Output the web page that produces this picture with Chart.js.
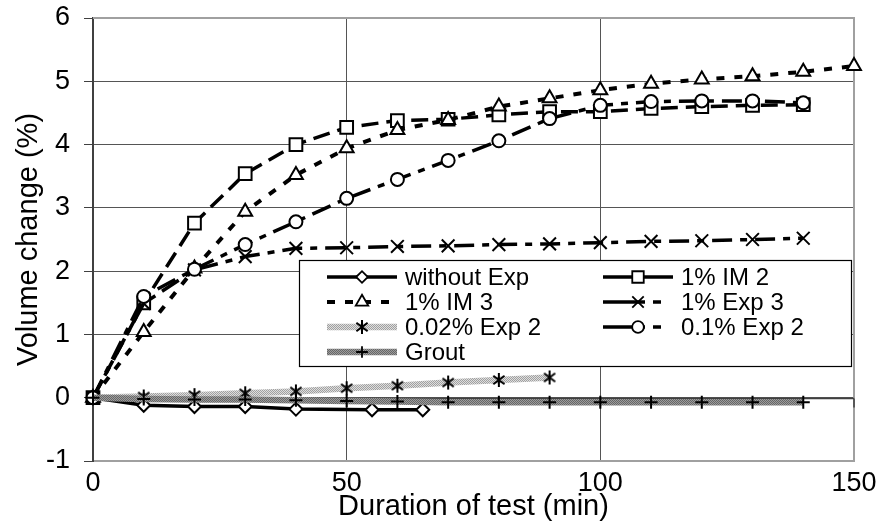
<!DOCTYPE html>
<html>
<head>
<meta charset="utf-8">
<title>Volume change</title>
<script src="https://cdn.jsdelivr.net/npm/chart.js@4.4.1/dist/chart.umd.min.js"></script>
<style>
  html, body { margin: 0; padding: 0; background: #fff; }
</style>
</head>
<body>
<canvas id="volumeChart" width="881" height="521"></canvas>
<script>
// durations (min) at which each mix was read
const timeFull = [0, 10, 20, 30, 40, 50, 60, 70, 80, 90, 100, 110, 120, 130, 140];
const timeIM3 = [0, 10, 20, 30, 40, 50, 60, 70, 80, 90, 100, 110, 120, 130, 140, 150];
const timeNoExp = [0, 10, 20, 30, 40, 55, 65];
const timeExp002 = [0, 10, 20, 30, 40, 50, 60, 70, 80, 90];

// volume change (%) per mix
const withoutExp = [0, -0.12, -0.14, -0.14, -0.18, -0.19, -0.19];
const im2 = [0, 1.5, 2.76, 3.54, 4.0, 4.27, 4.38, 4.4, 4.47, 4.52, 4.52, 4.57, 4.6, 4.62, 4.63];
const im3 = [0, 1.04, 2.04, 2.94, 3.52, 3.94, 4.23, 4.39, 4.6, 4.73, 4.86, 4.96, 5.03, 5.08, 5.15, 5.24];
const exp3 = [0, 1.49, 2.02, 2.23, 2.36, 2.37, 2.39, 2.4, 2.42, 2.43, 2.45, 2.47, 2.48, 2.5, 2.52];
const exp002 = [0, 0.02, 0.04, 0.07, 0.1, 0.15, 0.19, 0.24, 0.28, 0.32];
const exp01 = [0, 1.6, 2.03, 2.42, 2.78, 3.15, 3.45, 3.75, 4.06, 4.41, 4.62, 4.68, 4.69, 4.69, 4.66];
const grout = [0, -0.02, -0.03, -0.03, -0.04, -0.05, -0.06, -0.07, -0.07, -0.07, -0.07, -0.07, -0.07, -0.07, -0.07];

const seriesNames = ['without Exp', '1% IM 2', '1% IM 3', '1% Exp 3', '0.02% Exp 2', '0.1% Exp 2', 'Grout'];
const xTicks = [0, 50, 100, 150];
const yTicks = [-1, 0, 1, 2, 3, 4, 5, 6];

const FONT = '"Liberation Sans", Arial, sans-serif';

function pts(xs, ys) {                       // pair durations with readings
  return ys.map((y, i) => ({ x: xs[i], y: y }));
}

function hatch(light, dark) {                // dotted grey fill used for the two grey lines
  const c = document.createElement('canvas');
  c.width = 4; c.height = 4;
  const g = c.getContext('2d');
  g.fillStyle = light;
  g.fillRect(0, 0, 4, 4);
  g.fillStyle = dark;
  for (let y = 0; y < 4; y++) {
    for (let x = 0; x < 4; x++) {
      if ((x + y) % 2 === 0) g.fillRect(x, y, 1, 1);
    }
  }
  return g.createPattern(c, 'repeat');
}

function asterisk(r) {                       // six-armed star marker
  const s = 2 * r + 4;
  const c = document.createElement('canvas');
  c.width = s; c.height = s;
  const g = c.getContext('2d');
  const m = s / 2;
  const dx = r * 0.8, dy = r * 0.6;
  g.strokeStyle = '#000';
  g.lineWidth = 2;
  g.beginPath();
  g.moveTo(m, m - r); g.lineTo(m, m + r);
  g.moveTo(m - dx, m - dy); g.lineTo(m + dx, m + dy);
  g.moveTo(m - dx, m + dy); g.lineTo(m + dx, m - dy);
  g.stroke();
  return c;
}

const ctxEl = document.getElementById('volumeChart');
const lightHatch = hatch('#dedede', '#a0a0a0');
const darkHatch = hatch('#9c9c9c', '#666666');

function series(i, xs, ys, style) {
  return Object.assign({
    label: seriesNames[i],
    data: pts(xs, ys),
    borderColor: '#000',
    borderWidth: 3.5,
    borderDash: [],
    pointBackgroundColor: '#fff',
    pointBorderColor: '#000',
    pointBorderWidth: 2,
    pointRadius: 6.5,
    tension: 0,
    clip: false,
    order: -i,                               // later series drawn on top
  }, style);
}

const datasets = [
  series(0, timeNoExp, withoutExp, { pointStyle: 'rectRot', pointRadius: 6.5, borderWidth: 3.5 }),
  series(1, timeFull, im2, { pointStyle: 'rect', pointRadius: 9, borderDash: [17, 8], legendDash: [] }),
  series(2, timeIM3, im3, { pointStyle: 'triangle', pointRadius: 8, borderWidth: 4, borderDash: [8, 10], legendDash: [8, 10] }),
  series(3, timeFull, exp3, { pointStyle: 'crossRot', pointRadius: 9, borderDash: [20, 8, 7, 8], legendDash: [42, 8, 8, 100] }),
  series(4, timeExp002, exp002, { pointStyle: asterisk(7), borderColor: lightHatch, borderWidth: 6.5 }),
  series(5, timeFull, exp01, { pointStyle: 'circle', pointRadius: 6.5, borderDash: [20, 8, 7, 8], legendDash: [42, 8, 8, 100] }),
  series(6, timeFull, grout, { pointStyle: 'cross', pointRadius: 6.5, borderColor: darkHatch, borderWidth: 6.5 }),
];

// plot frame plus the small tick marks along the zero line
const framePlugin = {
  id: 'frame',
  beforeDatasetsDraw(chart) {
    const { ctx, chartArea: a, scales } = chart;
    ctx.save();
    ctx.strokeStyle = '#a0a0a0';
    ctx.lineWidth = 2;
    ctx.beginPath();
    ctx.moveTo(a.left, a.top); ctx.lineTo(a.right, a.top); ctx.lineTo(a.right, a.bottom);
    ctx.stroke();
    const y0 = Math.round(scales.y.getPixelForValue(0)) + 0.5;
    ctx.strokeStyle = '#404040';
    ctx.lineWidth = 1.5;
    ctx.beginPath();
    ctx.moveTo(a.left, y0); ctx.lineTo(a.right, y0);
    xTicks.forEach((v) => {
      const x = scales.x.getPixelForValue(v);
      ctx.moveTo(x, y0); ctx.lineTo(x, y0 + 9);
    });
    ctx.stroke();
    ctx.restore();
  }
};

// boxed two-column legend inside the plot
const legendPlugin = {
  id: 'boxLegend',
  afterDatasetsDraw(chart) {
    const ctx = chart.ctx;
    const box = { left: 299, top: 260, right: 852, bottom: 367 };
    const colX = [327, 603];
    const sampleW = 70;
    ctx.save();
    ctx.fillStyle = '#fff';
    ctx.fillRect(box.left, box.top, box.right - box.left, box.bottom - box.top);
    ctx.strokeStyle = '#000';
    ctx.lineWidth = 1.2;
    ctx.strokeRect(box.left + 0.5, box.top + 0.5, box.right - box.left - 1, box.bottom - box.top - 1);
    chart.data.datasets.forEach((ds, i) => {
      const x0 = colX[i % 2];
      const y = 277 + Math.floor(i / 2) * 25;
      ctx.strokeStyle = ds.borderColor;
      ctx.lineWidth = ds.borderWidth;
      ctx.setLineDash(ds.legendDash || ds.borderDash);
      ctx.beginPath();
      ctx.moveTo(x0, y); ctx.lineTo(x0 + sampleW, y);
      ctx.stroke();
      ctx.setLineDash([]);
      ctx.fillStyle = '#fff';
      ctx.strokeStyle = '#000';
      ctx.lineWidth = 1.8;
      Chart.helpers.drawPoint(ctx, {
        pointStyle: ds.pointStyle, radius: ds.pointRadius * 0.9, rotation: 0, borderWidth: 1.8
      }, x0 + sampleW / 2, y);
      ctx.fillStyle = '#000';
      ctx.font = '24px ' + FONT;
      ctx.textAlign = 'left';
      ctx.textBaseline = 'middle';
      ctx.fillText(ds.label, x0 + sampleW + 8, y + 1);
    });
    ctx.restore();
  }
};

const volumeChart = new Chart(ctxEl, {
  type: 'scatter',
  data: { datasets: datasets },
  options: {
    responsive: false,
    animation: false,
    devicePixelRatio: 1,
    showLine: true,
    layout: { padding: { top: 18, right: 27, bottom: 0, left: 0 } },
    plugins: { legend: { display: false }, tooltip: { enabled: false } },
    scales: {
      x: {
        type: 'linear',
        min: 0,
        max: 150,
        afterBuildTicks: (scale) => { scale.ticks = xTicks.map((v) => ({ value: v })); },
        afterFit: (scale) => { scale.height = 60; },
        grid: {
          drawTicks: false,
          color: (c) => (c.tick && (c.tick.value === 0 || c.tick.value === 150)) ? 'rgba(0,0,0,0)' : '#555',
          lineWidth: 1,
        },
        border: { display: true, color: '#a0a0a0', width: 2 },
        // labels sit just above the bottom edge of the plot
        ticks: { color: '#000', font: { family: FONT, size: 27 }, padding: -39, maxRotation: 0, mirror: true },
        title: {
          display: true, text: 'Duration of test (min)', color: '#000',
          font: { family: FONT, size: 29 }, padding: { top: 28, bottom: -3 }
        },
      },
      y: {
        type: 'linear',
        min: -1,
        max: 6,
        afterBuildTicks: (scale) => { scale.ticks = yTicks.map((v) => ({ value: v })); },
        afterFit: (scale) => {
          scale.width = 93;
          scale.paddingTop = 0;              // let the top label overhang the frame
          scale.paddingBottom = 0;
        },
        grid: {
          drawTicks: true,
          tickLength: 9,
          tickColor: '#404040',
          color: (c) => (c.tick && (c.tick.value === 6 || c.tick.value === -1)) ? 'rgba(0,0,0,0)' : '#555',
          lineWidth: 1,
        },
        border: { display: true, color: '#404040', width: 2 },
        ticks: { color: '#000', font: { family: FONT, size: 27 }, padding: 14 },
        title: {
          display: true, text: 'Volume change (%)', color: '#000',
          font: { family: FONT, size: 29 }, padding: { top: 12, bottom: 0 }
        },
      },
    },
  },
  plugins: [framePlugin, legendPlugin],
});
</script>
</body>
</html>
